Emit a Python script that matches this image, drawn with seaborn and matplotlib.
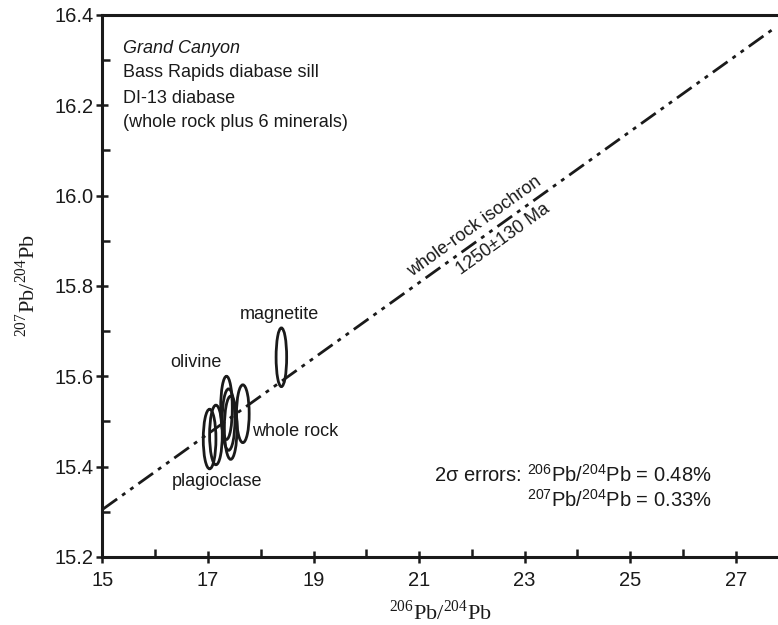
import numpy as np
import pandas as pd
import matplotlib
matplotlib.use("Agg")
import matplotlib.pyplot as plt
from matplotlib.patches import Ellipse
from matplotlib.ticker import MultipleLocator, FormatStrFormatter
import seaborn as sns

# --- data ---
# ellipse centres (206Pb/204Pb, 207Pb/204Pb) and drawn semi-axes
pb206 = [17.03, 17.15, 17.35, 17.39, 17.43, 17.66, 18.39]
pb207 = [15.461, 15.470, 15.530, 15.504, 15.486, 15.517, 15.642]
err206 = [0.12, 0.12, 0.11, 0.12, 0.12, 0.12, 0.10]
err207 = [0.066, 0.066, 0.070, 0.068, 0.070, 0.064, 0.065]

# isochron end points
iso_x = [15.0, 27.71]
iso_y = [15.305, 16.369]

# mineral labels
labels = ["magnetite", "olivine", "whole rock", "plagioclase"]
label_x = [18.36, 16.77, 17.84, 17.17]
label_y = [15.736, 15.630, 15.477, 15.366]
label_ha = ["center", "center", "left", "center"]

header = ["Grand Canyon", "Bass Rapids diabase sill", "DI-13 diabase",
          "(whole rock plus 6 minerals)"]

x_ticks = [15, 17, 19, 21, 23, 25, 27]

sns.set_theme(style="ticks")
plt.rcParams["font.family"] = ["Liberation Sans", "DejaVu Sans"]
plt.rcParams["mathtext.fontset"] = "custom"
plt.rcParams["mathtext.rm"] = "Liberation Serif"
plt.rcParams["mathtext.sf"] = "Liberation Sans"

ink = "#1a1a1a"
fig = plt.figure(figsize=(7.78, 6.25), dpi=100)
ax = fig.add_axes([0.1317, 0.109, 0.8683, 0.867])

# isochron line
df = pd.DataFrame({"x": iso_x, "y": iso_y})
sns.lineplot(data=df, x="x", y="y", ax=ax, color=ink, lw=2.0)
ax.lines[0].set_dashes([6.5, 2.2, 1.4, 2.2, 1.4, 2.2])

# error ellipses
for x, y, ex, ey in zip(pb206, pb207, err206, err207):
    ax.add_patch(Ellipse((x, y), 2 * ex, 2 * ey, fill=False,
                         ec=ink, lw=2.0, zorder=3))

for t, x, y, ha in zip(labels, label_x, label_y, label_ha):
    ax.text(x, y, t, ha=ha, va="center", fontsize=13, color=ink)

# header block
ys = [0.939, 0.893, 0.845, 0.801]
for i, (t, y) in enumerate(zip(header, ys)):
    ax.text(0.03, y, t, transform=ax.transAxes, fontsize=13, va="center",
            color=ink, style="italic" if i == 0 else "normal")

ax.set_xlim(15, 27.8)
ax.set_ylim(15.2, 16.4)

# isochron label, rotated along line
p0 = ax.transData.transform((iso_x[0], iso_y[0]))
p1 = ax.transData.transform((iso_x[1], iso_y[1]))
ang = np.degrees(np.arctan2(p1[1] - p0[1], p1[0] - p0[0]))
ax.text(22.15, 15.915, "whole-rock isochron", rotation=ang,
        rotation_mode="anchor", ha="center", va="bottom", fontsize=13,
        color=ink)
ax.text(22.5, 15.918, "1250\u00b1130 Ma", rotation=ang,
        rotation_mode="anchor", ha="center", va="top", fontsize=13,
        color=ink)

# errors note
ax.text(26.54, 15.382,
        r"2σ errors: $^{\mathsf{206}}$Pb/$^{\mathsf{204}}$Pb = 0.48%",
        ha="right", va="center", fontsize=14.5, color=ink)
ax.text(26.54, 15.326, r"$^{\mathsf{207}}$Pb/$^{\mathsf{204}}$Pb = 0.33%",
        ha="right", va="center", fontsize=14.5, color=ink)

# axes
ax.set_xticks(x_ticks)
ax.xaxis.set_minor_locator(MultipleLocator(1))
ax.yaxis.set_major_locator(MultipleLocator(0.2))
ax.yaxis.set_minor_locator(MultipleLocator(0.1))
ax.yaxis.set_major_formatter(FormatStrFormatter("%.1f"))
ax.tick_params(which="major", direction="inout", length=9, width=1.8,
               labelsize=14.5, color=ink, labelcolor=ink)
ax.tick_params(axis="x", which="major", pad=6)
ax.tick_params(axis="y", which="major", pad=2)
ax.tick_params(which="minor", direction="in", length=6, width=1.8,
               color=ink)
ax.tick_params(axis="x", which="both", top=False)
ax.tick_params(axis="y", which="both", right=False)
for s in ["left", "bottom", "top"]:
    ax.spines[s].set_linewidth(2.2)
    ax.spines[s].set_color(ink)
ax.spines["right"].set_visible(False)

serif = {"family": ["Liberation Serif", "DejaVu Serif"], "size": 16,
         "color": ink}
ax.set_xlabel(r"$^{206}$Pb/$^{204}$Pb", fontdict=serif, labelpad=7)
ax.set_ylabel(r"$^{207}$Pb/$^{204}$Pb", fontdict=serif, labelpad=10)

fig.savefig("out.png", dpi=100)
